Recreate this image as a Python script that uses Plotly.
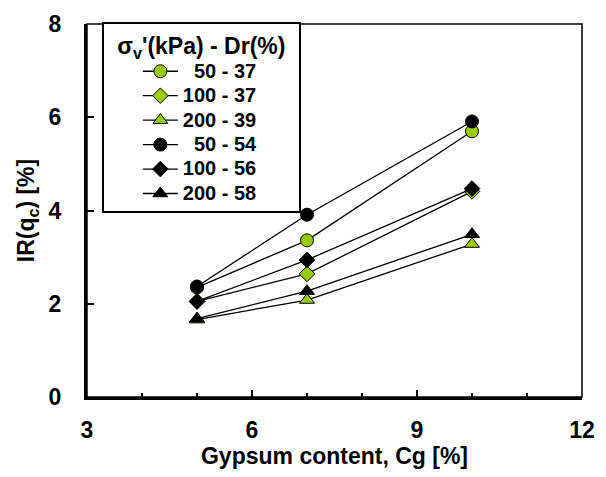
import plotly.graph_objects as go

cg = [5, 7, 10]
series_names = ["\u200750 - 37", "100 - 37", "200 - 39", "\u200750 - 54", "100 - 56", "200 - 58"]
ir_50_37 = [2.35, 3.36, 5.70]
ir_100_37 = [2.05, 2.64, 4.41]
ir_200_39 = [1.66, 2.08, 3.28]
ir_50_54 = [2.37, 3.91, 5.91]
ir_100_56 = [2.05, 2.94, 4.47]
ir_200_58 = [1.68, 2.27, 3.49]
values = [ir_50_37, ir_100_37, ir_200_39, ir_50_54, ir_100_56, ir_200_58]
colors = ["#99CC00", "#99CC00", "#99CC00", "black", "black", "black"]
symbols = ["circle", "diamond", "triangle-up", "circle", "diamond", "triangle-up"]
sizes = [13, 12, 13, 13, 12, 13]

FONT = "Arial, 'Liberation Sans', sans-serif"

fig = go.Figure()
for name, v, c, s, sz in zip(series_names, values, colors, symbols, sizes):
    fig.add_trace(go.Scatter(
        x=cg, y=v, mode="lines+markers",
        name=f'<span style="font-size:20px">{name}</span>',
        line=dict(color="black", width=1.3),
        marker=dict(symbol=s, size=sz, color=c, line=dict(color="black", width=1)),
    ))

fig.update_layout(
    width=606, height=477,
    margin=dict(l=87, r=11, t=16, b=80),
    paper_bgcolor="white", plot_bgcolor="white",
    font=dict(family=FONT, size=23, color="black"),
    showlegend=True,
    legend=dict(
        x=0.03, y=1.005, xanchor="left", yanchor="top",
        bordercolor="black", borderwidth=2, bgcolor="white",
        font=dict(family=FONT, size=16.5, color="black", weight="bold"),
        title=dict(text="<b>\u00a0\u2009σ<sub>v</sub>'(kPa) - Dr(%)\u00a0\u2009</b>",
                   font=dict(family=FONT, size=23, color="black"), side="top center"),
        tracegroupgap=0,
        itemwidth=35,
        indentation=34,
    ),
    xaxis=dict(
        range=[3, 12], tickvals=[3, 6, 9, 12], ticktext=["<b>3</b>", "<b>6</b>", "<b>9</b>", "<b>12</b>"],
        ticks="inside", ticklen=7, tickwidth=2, tickcolor="black",
        minor=dict(dtick=1, tick0=3, ticks="inside", ticklen=4, tickwidth=2, tickcolor="black", showgrid=False),
        showline=True, linecolor="black", linewidth=3, mirror=False,
        showgrid=False, zeroline=False, ticklabelstandoff=10, ticklabeloverflow="allow",
        tickfont=dict(size=23, family=FONT),
        title=dict(text="<b>Gypsum content, Cg [%]</b>", font=dict(size=23, family=FONT), standoff=4),
    ),
    yaxis=dict(
        range=[0, 8], tickvals=[0, 2, 4, 6, 8], ticktext=["<b>0</b>", "<b>2</b>", "<b>4</b>", "<b>6</b>", "<b>8</b>"],
        ticks="inside", ticklen=7, tickwidth=2, tickcolor="black",
        showline=True, linecolor="black", linewidth=3, mirror=False,
        showgrid=False, zeroline=False, ticklabelstandoff=18,
        tickfont=dict(size=23, family=FONT),
        title=dict(text="<b>IR(q<sub>c</sub>) [%]</b>", font=dict(size=23, family=FONT), standoff=8),
    ),
    shapes=[dict(type="rect", xref="paper", yref="paper", x0=0, y0=0, x1=1, y1=1,
                 line=dict(color="black", width=1.5), layer="above")],
)

fig.write_html("out.html")
